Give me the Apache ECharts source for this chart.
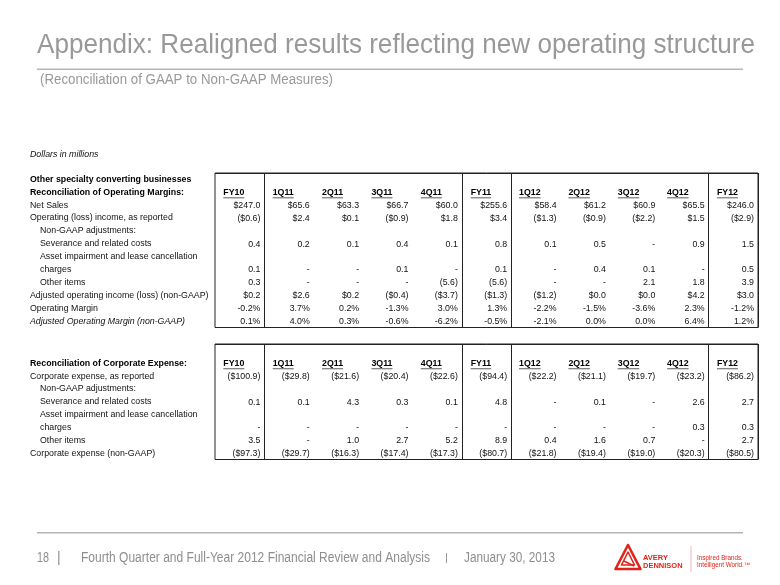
<!DOCTYPE html>
<html>
<head>
<meta charset="utf-8">
<script src="https://cdn.jsdelivr.net/npm/echarts@6/dist/echarts.min.js"></script>
<style>
html,body{margin:0;padding:0;background:#fff;}
#chart{width:780px;height:585px;}
</style>
</head>
<body>
<div id="chart"></div>
<script>
// ---------- data ----------
const columns = ['FY10','1Q11','2Q11','3Q11','4Q11','FY11','1Q12','2Q12','3Q12','4Q12','FY12'];

const opRowLabels = ['Other specialty converting businesses','Reconciliation of Operating Margins:','Net Sales','Operating (loss) income, as reported','Non-GAAP adjustments:','Severance and related costs','Asset impairment and lease cancellation','charges','Other items','Adjusted operating income (loss) (non-GAAP)','Operating Margin','Adjusted Operating Margin (non-GAAP)'];
const netSales    = [247.0, 65.6, 63.3, 66.7, 60.0, 255.6, 58.4, 61.2, 60.9, 65.5, 246.0];
const opIncome    = [-0.6, 2.4, 0.1, -0.9, 1.8, 3.4, -1.3, -0.9, -2.2, 1.5, -2.9];
const opSeverance = [0.4, 0.2, 0.1, 0.4, 0.1, 0.8, 0.1, 0.5, null, 0.9, 1.5];
const opAsset     = [0.1, null, null, 0.1, null, 0.1, null, 0.4, 0.1, null, 0.5];
const opOther     = [0.3, null, null, null, -5.6, -5.6, null, null, 2.1, 1.8, 3.9];
const adjOpIncome = [0.2, 2.6, 0.2, -0.4, -3.7, -1.3, -1.2, 0.0, 0.0, 4.2, 3.0];
const opMargin    = [-0.2, 3.7, 0.2, -1.3, 3.0, 1.3, -2.2, -1.5, -3.6, 2.3, -1.2];
const adjOpMargin = [0.1, 4.0, 0.3, -0.6, -6.2, -0.5, -2.1, 0.0, 0.0, 6.4, 1.2];

const corpRowLabels = ['','Reconciliation of Corporate Expense:','Corporate expense, as reported','Non-GAAP adjustments:','Severance and related costs','Asset impairment and lease cancellation','charges','Other items','Corporate expense (non-GAAP)'];
const corpExpense   = [-100.9, -29.8, -21.6, -20.4, -22.6, -94.4, -22.2, -21.1, -19.7, -23.2, -86.2];
const corpSeverance = [0.1, 0.1, 4.3, 0.3, 0.1, 4.8, null, 0.1, null, 2.6, 2.7];
const corpAsset     = [null, null, null, null, null, null, null, null, null, 0.3, 0.3];
const corpOther     = [3.5, null, 1.0, 2.7, 5.2, 8.9, 0.4, 1.6, 0.7, null, 2.7];
const corpNonGaap   = [-97.3, -29.7, -16.3, -17.4, -17.3, -80.7, -21.8, -19.4, -19.0, -20.3, -80.5];

// ---------- formatting ----------
const dollar = v => v < 0 ? '($' + (-v).toFixed(1) + ')' : '$' + v.toFixed(1);
const plain  = v => v == null ? '-' : (v < 0 ? '(' + (-v).toFixed(1) + ')' : v.toFixed(1));
const pct    = v => v.toFixed(1) + '%';

const opRows = [
  [opRowLabels.indexOf('Net Sales'), netSales, dollar],
  [opRowLabels.indexOf('Operating (loss) income, as reported'), opIncome, dollar],
  [opRowLabels.indexOf('Severance and related costs'), opSeverance, plain],
  [opRowLabels.indexOf('charges'), opAsset, plain],
  [opRowLabels.indexOf('Other items'), opOther, plain],
  [opRowLabels.indexOf('Adjusted operating income (loss) (non-GAAP)'), adjOpIncome, dollar],
  [opRowLabels.indexOf('Operating Margin'), opMargin, pct],
  [opRowLabels.indexOf('Adjusted Operating Margin (non-GAAP)'), adjOpMargin, pct]
];
const corpRows = [
  [corpRowLabels.indexOf('Corporate expense, as reported'), corpExpense, dollar],
  [corpRowLabels.indexOf('Severance and related costs'), corpSeverance, plain],
  [corpRowLabels.indexOf('charges'), corpAsset, plain],
  [corpRowLabels.indexOf('Other items'), corpOther, plain],
  [corpRowLabels.indexOf('Corporate expense (non-GAAP)'), corpNonGaap, dollar]
];

function buildCells(rows) {
  const data = [], texts = [];
  rows.forEach(([r, vals, fmt]) => {
    vals.forEach((v, c) => { data.push([c, r]); texts.push(fmt(v)); });
  });
  return {data, texts};
}
const opCells = buildCells(opRows);
const corpCells = buildCells(corpRows);

// ---------- styles ----------
const FONT = '"Liberation Sans", Arial, sans-serif';
const CELL_FONT = '8.8px ' + FONT;
const HEAD_FONT = 'bold 8.8px ' + FONT;
const boldLabels = ['Other specialty converting businesses','Reconciliation of Operating Margins:','Reconciliation of Corporate Expense:'];
const indentLabels = ['Non-GAAP adjustments:','Severance and related costs','Asset impairment and lease cancellation','charges','Other items'];
const italicLabels = ['Adjusted Operating Margin (non-GAAP)'];

const measureCtx = document.createElement('canvas').getContext('2d');
function textWidth(t, f) { measureCtx.font = f; return measureCtx.measureText(t).width; }

function cellRenderer(texts) {
  return function (params, api) {
    const pt = api.coord([api.value(0), api.value(1)]);
    const bw = api.size([1, 0])[0];
    return {
      type: 'text',
      style: { text: texts[params.dataIndex], x: pt[0] + bw / 2 - 4, y: pt[1] + 0.5,
               align: 'right', verticalAlign: 'middle', font: CELL_FONT, fill: '#111' }
    };
  };
}
function headerRenderer(params, api) {
  const c = api.value(0);
  const pt = api.coord([c, api.value(1)]);
  const bw = api.size([1, 0])[0];
  const text = columns[c];
  const right = pt[0] + bw / 2 - 20;
  const w = textWidth(text, HEAD_FONT);
  return {
    type: 'group',
    children: [
      { type: 'text', style: { text, x: right, y: pt[1] + 0.5, align: 'right', verticalAlign: 'middle', font: HEAD_FONT, fill: '#000' } },
      { type: 'line', shape: { x1: right - w, y1: pt[1] + 5.5, x2: right, y2: pt[1] + 5.5 }, style: { stroke: '#333', lineWidth: 0.8 } }
    ]
  };
}

function labelFormatter(v) {
  if (!v) return '';
  if (boldLabels.includes(v)) return '{b|' + v + '}';
  if (indentLabels.includes(v)) return '{ind|' + v + '}';
  if (italicLabels.includes(v)) return '{it|' + v + '}';
  return '{n|' + v + '}';
}
const richStyles = {
  n:   { fontSize: 8.8, fontFamily: FONT, color: '#111' },
  b:   { fontSize: 8.8, fontFamily: FONT, color: '#000', fontWeight: 'bold' },
  ind: { fontSize: 8.8, fontFamily: FONT, color: '#111', padding: [0, 0, 0, 10] },
  it:  { fontSize: 8.8, fontFamily: FONT, color: '#111', fontStyle: 'italic' }
};

function makeX(gridIndex) {
  return {
    type: 'category', gridIndex, data: columns,
    axisLine: { show: false }, axisTick: { show: false }, axisLabel: { show: false },
    splitLine: { show: true, interval: (i) => [1, 5, 6, 10].includes(i), lineStyle: { color: '#222', width: 1 } }
  };
}
function makeY(gridIndex, labels, lineRow) {
  return {
    type: 'category', gridIndex, data: labels, inverse: true,
    axisLine: { show: false }, axisTick: { show: false },
    axisLabel: { interval: 0, align: 'left', margin: 185, formatter: labelFormatter, rich: richStyles },
    splitLine: { show: true, interval: (i) => i === lineRow, lineStyle: { color: '#222', width: 1 } }
  };
}

// text squeezed horizontally to a given width (the original uses a condensed face)
function fitText(text, x, y, targetWidth, size, fill) {
  const f = size + 'px ' + FONT;
  const s = targetWidth / textWidth(text, f);
  return { type: 'text', x, y, scaleX: s, scaleY: 1, style: { text, font: f, fill, verticalAlign: 'middle' } };
}

const grayText = '#8e8e8e';
const red = '#e2231a';

const option = {
  animation: false,
  grid: [
    { left: 215, top: 173, width: 543, height: 154.5, show: true, borderColor: '#222', borderWidth: 1, backgroundColor: 'transparent' },
    { left: 215, top: 344, width: 543, height: 115.5, show: true, borderColor: '#222', borderWidth: 1, backgroundColor: 'transparent' }
  ],
  xAxis: [makeX(0), makeX(1)],
  yAxis: [makeY(0, opRowLabels, 9), makeY(1, corpRowLabels, 8)],
  series: [
    { type: 'custom', xAxisIndex: 0, yAxisIndex: 0, silent: true, data: columns.map((c, i) => [i, 1]), renderItem: headerRenderer },
    { type: 'custom', xAxisIndex: 0, yAxisIndex: 0, silent: true, data: opCells.data, renderItem: cellRenderer(opCells.texts) },
    { type: 'custom', xAxisIndex: 1, yAxisIndex: 1, silent: true, data: columns.map((c, i) => [i, 1]), renderItem: headerRenderer },
    { type: 'custom', xAxisIndex: 1, yAxisIndex: 1, silent: true, data: corpCells.data, renderItem: cellRenderer(corpCells.texts) }
  ],
  graphic: [
    fitText('Appendix: Realigned results reflecting new operating structure', 37, 45, 718, 28, '#999'),
    { type: 'rect', shape: { x: 37, y: 68.5, width: 706, height: 1.5 }, style: { fill: '#b5b5b5' } },
    fitText('(Reconciliation of GAAP to Non-GAAP Measures)', 40, 80, 293, 14, '#999'),
    { type: 'text', x: 30, y: 155, style: { text: 'Dollars in millions', font: 'italic 8.8px ' + FONT, fill: '#111', verticalAlign: 'middle' } },
    { type: 'rect', shape: { x: 37, y: 532, width: 706, height: 1.5 }, style: { fill: '#b5b5b5' } },
    fitText('18', 37, 558, 12, 14, grayText),
    { type: 'text', x: 57, y: 558, style: { text: '|', font: '14px ' + FONT, fill: grayText, verticalAlign: 'middle' } },
    fitText('Fourth Quarter and Full-Year 2012 Financial Review and Analysis', 81, 558, 349, 14, grayText),
    { type: 'text', x: 445, y: 558, style: { text: '|', font: '11px ' + FONT, fill: grayText, verticalAlign: 'middle' } },
    fitText('January 30, 2013', 464, 558, 91, 14, grayText),
    // logo mark
    { type: 'polygon', shape: { points: [[628, 545], [615.5, 569], [640.5, 569]] }, style: { fill: 'none', stroke: red, lineWidth: 2.6, lineJoin: 'round' } },
    { type: 'polygon', shape: { points: [[628, 552], [621.5, 565], [634.5, 565]] }, style: { fill: 'none', stroke: red, lineWidth: 1.6, lineJoin: 'round' } },
    { type: 'line', shape: { x1: 624, y1: 561, x2: 634, y2: 566 }, style: { stroke: red, lineWidth: 1.4 } },
    { type: 'text', x: 643, y: 558, style: { text: 'AVERY', font: 'bold 7.5px ' + FONT, fill: red, verticalAlign: 'middle' } },
    { type: 'text', x: 643, y: 565.5, style: { text: 'DENNISON', font: 'bold 7.5px ' + FONT, fill: red, verticalAlign: 'middle' } },
    { type: 'line', shape: { x1: 691, y1: 546, x2: 691, y2: 572 }, style: { stroke: '#f2b7b3', lineWidth: 1 } },
    { type: 'text', x: 697, y: 558, style: { text: 'Inspired Brands.', font: '6.3px ' + FONT, fill: red, verticalAlign: 'middle' } },
    { type: 'text', x: 697, y: 565.5, style: { text: 'Intelligent World.\u2122', font: '6.3px ' + FONT, fill: red, verticalAlign: 'middle' } }
  ]
};

const chart = echarts.init(document.getElementById('chart'), null, { renderer: 'canvas' });
chart.setOption(option);
</script>
</body>
</html>
